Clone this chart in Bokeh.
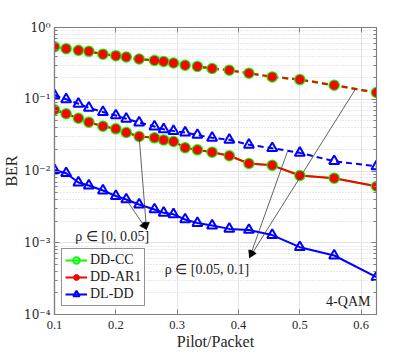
from bokeh.plotting import figure
from bokeh.models import (Range1d, FixedTicker, CustomJSTickFormatter, LinearAxis, LogAxis,
                          Legend, LegendItem, Arrow, NormalHead, Label)
from bokeh.embed import file_html
from bokeh.resources import INLINE

# ---------------- data ----------------
pilot_packet = [0.100, 0.119, 0.139, 0.156, 0.179, 0.200, 0.217, 0.238, 0.263, 0.278,
                0.294, 0.313, 0.333, 0.357, 0.385, 0.417, 0.455, 0.500, 0.556, 0.625]

# rho in [0.05, 0.1]  (dashed)
dd_cc_hi = [0.540, 0.507, 0.480, 0.465, 0.425, 0.405, 0.388, 0.364, 0.348, 0.336,
            0.320, 0.298, 0.287, 0.268, 0.254, 0.230, 0.205, 0.188, 0.157, 0.124]
dd_ar1_hi = [0.540, 0.507, 0.480, 0.465, 0.425, 0.405, 0.388, 0.364, 0.348, 0.336,
             0.320, 0.298, 0.287, 0.268, 0.254, 0.230, 0.205, 0.188, 0.157, 0.124]
dl_dd_hi = [0.1135, 0.0998, 0.0864, 0.0760, 0.0664, 0.0594, 0.0534, 0.0474, 0.0417, 0.0381,
            0.0361, 0.0344, 0.0318, 0.0290, 0.0272, 0.0232, 0.0208, 0.0179, 0.0137, 0.0116]

# rho in [0, 0.05]  (solid)
dd_cc_lo = [0.0713, 0.0627, 0.0544, 0.0479, 0.0421, 0.0387, 0.0344, 0.0303, 0.0290, 0.0271,
            0.0258, 0.0211, 0.0197, 0.0183, 0.0163, 0.0127, 0.0120, 0.00865, 0.00794, 0.00614]
dd_ar1_lo = [0.0713, 0.0627, 0.0544, 0.0479, 0.0421, 0.0387, 0.0344, 0.0303, 0.0290, 0.0271,
             0.0258, 0.0211, 0.0197, 0.0183, 0.0163, 0.0127, 0.0120, 0.00865, 0.00794, 0.00614]
dl_dd_lo = [0.01033, 0.00932, 0.00691, 0.00628, 0.00535, 0.00448, 0.00401, 0.00341, 0.00291, 0.00261,
            0.00249, 0.00211, 0.00188, 0.00174, 0.00156, 0.00151, 0.00128, 0.000867, 0.000664, 0.000331]

x_ticks = [0.1, 0.2, 0.3, 0.4, 0.5, 0.6]
y_ticks = [1e-4, 1e-3, 1e-2, 1e-1, 1.0]
y_minor = [k * 10.0 ** e for e in range(-4, 0) for k in range(2, 10)]

series_labels = ["DD-CC", "DD-AR1", "DL-DD"]
x_title = "Pilot/Packet"
y_title = "BER"
rho_lo_text = "ρ ∈ [0, 0.05]"
rho_hi_text = "ρ ∈ [0.05, 0.1]"
mod_text = "4-QAM"

# arrow geometry (data coordinates)
arrow_lo_head = (0.250, 0.00153)
arrow_hi_head = (0.418, 0.00062)
arrow_hi_tail_top = (0.590, 0.1355)
arrow_hi_tail_mid = (0.4795, 0.0183)

FONT = "Liberation Serif"
GREEN, RED, BLUE = "#00ff00", "#ff0000", "#0000ff"
AXC = "#808080"

p = figure(width=400, height=352, y_axis_type="log",
           x_range=Range1d(0.1, 0.625), y_range=Range1d(1e-4, 1.0),
           output_backend="svg", toolbar_location=None,
           min_border_left=54, min_border_right=24, min_border_top=27, min_border_bottom=38)
p.background_fill_color = "white"
p.border_fill_color = "white"
p.outline_line_color = AXC
p.outline_line_width = 1.2

xt = FixedTicker(ticks=x_ticks)
yt = FixedTicker(ticks=y_ticks, minor_ticks=y_minor)
p.xaxis.ticker = xt
p.yaxis.ticker = yt
p.xgrid.ticker = xt
p.ygrid.ticker = yt

sup_code = """
const sup = {'0':'\u2070','1':'\u00b9','2':'\u00b2','3':'\u00b3','4':'\u2074','5':'\u2075',
             '6':'\u2076','7':'\u2077','8':'\u2078','9':'\u2079','-':'\u207b'};
const e = Math.round(Math.log10(tick));
return '10' + String(e).split('').map(c => sup[c]).join('');
"""
p.yaxis.formatter = CustomJSTickFormatter(code=sup_code)
p.xaxis.formatter = CustomJSTickFormatter(code="return tick.toFixed(1);")

for ax in (p.xaxis[0], p.yaxis[0]):
    ax.major_tick_in = 5
    ax.major_tick_out = 0
    ax.minor_tick_in = 3
    ax.minor_tick_out = 0
    ax.axis_line_color = AXC
    ax.axis_line_width = 1.2
    ax.major_tick_line_color = AXC
    ax.minor_tick_line_color = AXC
    ax.major_label_text_color = "#262626"
    ax.axis_label_text_font = FONT
    ax.axis_label_text_font_size = "16px"
    ax.axis_label_text_font_style = "normal"
    ax.axis_label_text_color = "#262626"
p.xaxis.major_label_text_font = FONT
p.xaxis.major_label_text_font_size = "12.5px"
p.yaxis.major_label_text_font = "DejaVu Serif"
p.yaxis.major_label_text_font_size = "12px"
p.xaxis.major_label_standoff = 6
p.yaxis.major_label_standoff = 4
p.xaxis.axis_label_standoff = 1
p.yaxis.axis_label_standoff = 1
p.xaxis.axis_label = x_title
p.yaxis.axis_label = y_title
p.xaxis.minor_tick_line_color = None

# top and right axes (ticks only)
top_ax = LinearAxis(ticker=xt, formatter=CustomJSTickFormatter(code="return '';"),
                    major_tick_in=5, major_tick_out=0, minor_tick_line_color=None,
                    axis_line_color=AXC, major_tick_line_color=AXC, major_label_text_font_size="1px")
right_ax = LogAxis(ticker=yt, formatter=CustomJSTickFormatter(code="return '';"),
                   major_tick_in=5, major_tick_out=0, minor_tick_in=3, minor_tick_out=0,
                   axis_line_color=AXC, major_tick_line_color=AXC, minor_tick_line_color=AXC,
                   major_label_text_font_size="1px")
p.add_layout(top_ax, "above")
p.add_layout(right_ax, "right")

p.xgrid.grid_line_color = "#e3e3e3"
p.ygrid.grid_line_color = "#e3e3e3"
p.ygrid.minor_grid_line_color = "#d0d0d0"
p.ygrid.minor_grid_line_dash = "1 2"

DASH = "6 4"
LW = 2

# solid (rho in [0, 0.05])
l_cc = p.line(pilot_packet, dd_cc_lo, line_color=GREEN, line_width=LW)
l_ar = p.line(pilot_packet, dd_ar1_lo, line_color=RED, line_width=LW)
l_dl = p.line(pilot_packet, dl_dd_lo, line_color=BLUE, line_width=LW)
# dashed (rho in [0.05, 0.1])
p.line(pilot_packet, dd_cc_hi, line_color=GREEN, line_width=LW + 0.5, line_dash=DASH)
p.line(pilot_packet, dd_ar1_hi, line_color=RED, line_width=LW, line_dash=DASH)
p.line(pilot_packet, dl_dd_hi, line_color=BLUE, line_width=LW, line_dash=DASH)

m_cc = p.scatter(pilot_packet, dd_cc_lo, marker="circle", size=9.5, fill_color=None,
                 line_color=GREEN, line_width=2)
p.scatter(pilot_packet, dd_cc_hi, marker="circle", size=9.5, fill_color=None,
          line_color=GREEN, line_width=2)
m_ar = p.scatter(pilot_packet, dd_ar1_lo, marker="asterisk", size=9,
                 line_color=RED, line_width=3)
p.scatter(pilot_packet, dd_ar1_hi, marker="asterisk", size=9, line_color=RED, line_width=3)
m_dl = p.scatter(pilot_packet, dl_dd_lo, marker="triangle", size=10, fill_color=None,
                 line_color=BLUE, line_width=2)
p.scatter(pilot_packet, dl_dd_hi, marker="triangle", size=10, fill_color=None,
          line_color=BLUE, line_width=2)

# arrows
arrow_tails = [(pilot_packet[7], dd_ar1_lo[7], arrow_lo_head),
               (pilot_packet[6], dl_dd_lo[6], arrow_lo_head),
               (arrow_hi_tail_top[0], arrow_hi_tail_top[1], arrow_hi_head),
               (arrow_hi_tail_mid[0], arrow_hi_tail_mid[1], arrow_hi_head)]
for xs, ys, (xe, ye) in arrow_tails:
    p.add_layout(Arrow(end=NormalHead(size=7, fill_color="black", line_color="black", line_width=0.5),
                       x_start=xs, y_start=ys, x_end=xe, y_end=ye,
                       line_color="#3a3a3a", line_width=0.8))

p.add_layout(Label(x=0.194, y=0.00122, text=rho_lo_text, text_font=FONT, text_font_size="14px",
                   text_align="center", text_baseline="middle", text_color="#1a1a1a"))
p.add_layout(Label(x=0.3485, y=0.000424, text=rho_hi_text, text_font=FONT, text_font_size="14px",
                   text_align="center", text_baseline="middle", text_color="#1a1a1a"))
p.add_layout(Label(x=0.579, y=0.000154, text=mod_text, text_font=FONT, text_font_size="14px",
                   text_align="center", text_baseline="middle", text_color="#1a1a1a"))

legend = Legend(items=[LegendItem(label=series_labels[0], renderers=[l_cc, m_cc]),
                       LegendItem(label=series_labels[1], renderers=[l_ar, m_ar]),
                       LegendItem(label=series_labels[2], renderers=[l_dl, m_dl])],
                location=(7, 8), label_text_font=FONT, label_text_font_size="14px",
                label_text_color="#1a1a1a", glyph_width=22, glyph_height=16, label_height=16,
                label_standoff=3, spacing=1, padding=3, margin=0,
                border_line_color="#262626", border_line_width=1, background_fill_alpha=1.0)
p.add_layout(legend)

open("out.html", "w").write(file_html(p, INLINE))
